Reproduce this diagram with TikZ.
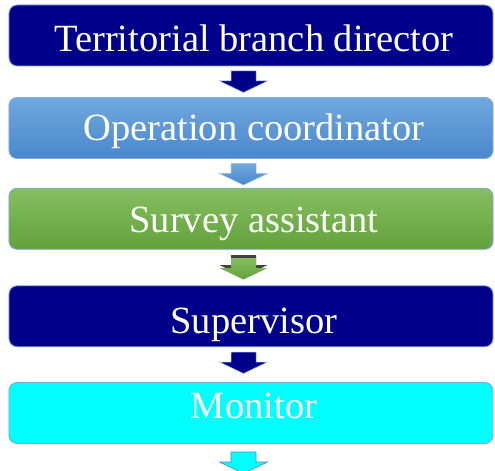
\documentclass[tikz,border=0pt]{standalone}
\usepackage{fontspec}
\setmainfont{Liberation Serif}
\definecolor{navy}{RGB}{0,0,139}
\definecolor{bluetop}{RGB}{112,168,222}
\definecolor{bluebot}{RGB}{74,136,204}
\definecolor{greentop}{RGB}{134,190,96}
\definecolor{greenbot}{RGB}{98,162,58}
\definecolor{aqua}{RGB}{0,255,255}
\definecolor{edge}{RGB}{128,168,220}
\definecolor{shadowgray}{RGB}{64,64,64}
\tikzset{
  box/.style={draw=edge, line width=0.9bp, rounded corners=8bp, minimum width=484bp, minimum height=61bp, inner sep=0pt},
  lbl/.style={anchor=base, text=white, inner sep=0pt, font=\fontsize{38.5bp}{46bp}\selectfont},
  blockarrow/.pic={\path[pic actions] (-12.5,0) -- (12.5,0) -- (12.5,10) -- (24,10) -- (0,21.5) -- (-24,10) -- (-12.5,10) -- cycle;},
  arr/.style={draw=edge!70, line width=0.5bp}
}
\begin{document}
\begin{tikzpicture}[x=1bp,y=-1bp]
\clip (0,0) rectangle (495,471);
\fill[white] (0,0) rectangle (495,471);
% boxes
\node[box, fill=navy] (b1) at (251,35.5) {};
\node[box, top color=bluetop, bottom color=bluebot] (b2) at (251,128) {};
\node[box, top color=greentop, bottom color=greenbot] (b3) at (251,218.75) {};
\node[box, fill=navy] (b4) at (251,316.25) {};
\node[box, fill=aqua] (b5) at (251,413) {};
% labels
\node[lbl] (t1) at (254,52) {Territorial branch director};
\node[lbl] (t2) at (254,141) {Operation coordinator};
\node[lbl] (t3) at (254,233) {Survey assistant};
\node[lbl] (t4) at (254,333) {Supervisor};
\node[lbl] (t5) at (254,418) {Monitor};
% arrow anchors
\coordinate (a1) at (243.5,71);
\coordinate (a2) at (243.5,163.5);
\coordinate (a3) at (243.5,258);
\coordinate (a4) at (243.5,352);
\coordinate (a5) at (243.5,452);
% arrows
\pic[arr, fill=navy] at (a1) {blockarrow};
\pic[arr, top color=bluetop, bottom color=bluebot] at (a2) {blockarrow};
\pic[fill=shadowgray] at ([yshift=3bp]a3) {blockarrow};
\pic[top color=greentop, bottom color=greenbot] at (a3) {blockarrow};
\pic[arr, fill=navy] at (a4) {blockarrow};
\pic[draw=bluebot, line width=0.6bp, fill=aqua] at (a5) {blockarrow};
\end{tikzpicture}
\end{document}
